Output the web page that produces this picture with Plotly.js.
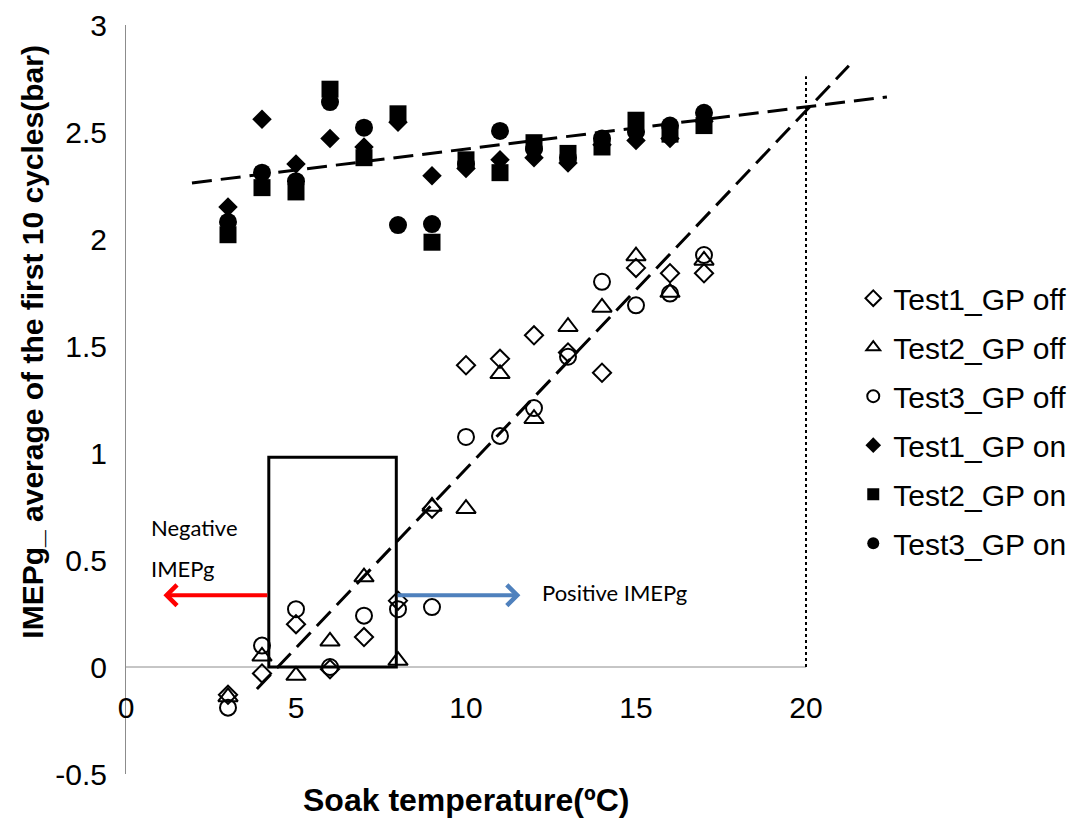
<!DOCTYPE html>
<html>
<head>
<meta charset="utf-8">
<script src="https://cdn.plot.ly/plotly-3.0.1.min.js"></script>
<style>html,body{margin:0;padding:0;background:#fff;}</style>
</head>
<body>
<div id="chart" style="width:1085px;height:818px;"></div>
<script>
// Soak temperature (ºC) of each test point
const soakTemp = [3, 4, 5, 6, 7, 8, 9, 10, 11, 12, 13, 14, 15, 16, 17];

// IMEPg, average of the first 10 cycles (bar) – glow plug off
const test1Off = [-0.13, -0.03, 0.20, -0.01, 0.14, 0.31, 0.74, 1.41, 1.44, 1.55, 1.47, 1.375, 1.865, 1.84, 1.84];
const test2Off = [-0.14, 0.05, -0.04, 0.12, 0.42, 0.03, 0.75, 0.74, 1.37, 1.16, 1.59, 1.68, 1.92, 1.75, 1.90];
const test3Off = [-0.19, 0.10, 0.27, 0.00, 0.24, 0.27, 0.28, 1.075, 1.08, 1.21, 1.45, 1.80, 1.69, 1.745, 1.925];

// IMEPg, average of the first 10 cycles (bar) – glow plug on
const test1On = [2.15, 2.56, 2.35, 2.47, 2.43, 2.545, 2.295, 2.33, 2.37, 2.38, 2.355, 2.44, 2.46, 2.47, 2.55];
const test2On = [2.02, 2.24, 2.22, 2.70, 2.38, 2.585, 1.985, 2.37, 2.31, 2.45, 2.40, 2.43, 2.555, 2.49, 2.53];
const test3On = [2.08, 2.31, 2.27, 2.64, 2.52, 2.065, 2.07, 2.35, 2.505, 2.42, 2.38, 2.47, 2.50, 2.53, 2.59];

// Linear trend lines (end points)
const trendOnX = [1.94, 22.38];
const trendOnY = [2.262, 2.664];
const trendOffX = [3.85, 21.26];
const trendOffY = [-0.103, 2.81];

// Axis ticks
const xTicks = [0, 5, 10, 15, 20];
const yTicks = [-0.5, 0, 0.5, 1, 1.5, 2, 2.5, 3];
const yTickText = ['-0.5', '0', '0.5', '1', '1.5', '2', '2.5', '3'];

// Highlighted transition window and the crossing temperature
const windowX = [4.2, 7.95];
const windowY = [0, 0.98];
const crossTemp = 20;
const crossTop = 2.76;

const baseFont = 'Liberation Sans, Arial, sans-serif';
const noteFont = 'Lato, Open Sans, sans-serif';

function series(name, y, symbol, size, group) {
  const open = symbol.endsWith('-open');
  return {
    type: 'scatter', mode: 'markers', name: name, x: soakTemp, y: y,
    legendgroup: group,
    marker: {
      symbol: symbol, size: size, color: '#000',
      line: {color: '#000', width: open ? 2 : 0}
    },
    cliponaxis: false
  };
}

function trend(x, y) {
  return {
    type: 'scatter', mode: 'lines', x: x, y: y, showlegend: false, hoverinfo: 'skip',
    line: {color: '#000', width: 3, dash: '20px,9px'}
  };
}

const data = [
  trend(trendOnX, trendOnY),
  trend(trendOffX, trendOffY),
  series('Test1_GP off', test1Off, 'diamond-open', 14, 'a'),
  series('Test2_GP off', test2Off, 'triangle-up-open', 17, 'b'),
  series('Test3_GP off', test3Off, 'circle-open', 16, 'c'),
  series('Test1_GP on', test1On, 'diamond', 15, 'd'),
  series('Test2_GP on', test2On, 'square', 17, 'e'),
  series('Test3_GP on', test3On, 'circle', 18, 'f')
];

const layout = {
  width: 1085, height: 818,
  paper_bgcolor: '#fff', plot_bgcolor: 'rgba(0,0,0,0)',
  margin: {l: 126, r: 177, t: 25, b: 44},
  showlegend: true,
  legend: {
    x: 0.93, xanchor: 'left', y: 0.67, yanchor: 'top',
    bgcolor: 'rgba(0,0,0,0)', itemsizing: 'constant', tracegroupgap: 7,
    font: {family: baseFont, size: 30, color: '#000'}
  },
  xaxis: {
    range: [0, 23], anchor: 'free', position: 0.5 / 3.5,
    showline: false, showgrid: false, zeroline: false,
    tickvals: xTicks, ticks: '', ticklabelstandoff: 20,
    tickfont: {family: baseFont, size: 30, color: '#000'}
  },
  yaxis: {
    range: [-0.5, 3], showline: true, linecolor: '#8c8c8c', linewidth: 1,
    showgrid: false, zeroline: false,
    tickvals: yTicks, ticktext: yTickText, ticks: '', ticklabelstandoff: 12,
    tickfont: {family: baseFont, size: 30, color: '#000'}
  },
  shapes: [
    {type: 'line', xref: 'x', yref: 'y', x0: 0, x1: crossTemp, y0: 0, y1: 0,
     line: {color: '#8c8c8c', width: 1}, layer: 'below'},
    {type: 'line', xref: 'x', yref: 'y', x0: crossTemp, x1: crossTemp, y0: 0, y1: crossTop,
     line: {color: '#000', width: 2, dash: 'dot'}},
    {type: 'rect', xref: 'x', yref: 'y', x0: windowX[0], x1: windowX[1], y0: windowY[0], y1: windowY[1],
     line: {color: '#000', width: 3}, fillcolor: 'rgba(0,0,0,0)'}
  ],
  annotations: [
    // axis titles
    {xref: 'x', yref: 'paper', x: 10, y: -0.035, xanchor: 'center', yanchor: 'middle', showarrow: false,
     text: 'Soak temperature(ºC)', font: {family: baseFont, size: 32, color: '#000', weight: 'bold'}},
    {xref: 'paper', yref: 'y', x: -0.119, y: 1.52, xanchor: 'center', yanchor: 'middle', showarrow: false,
     textangle: -90, text: 'IMEPg_ average of the first 10 cycles(bar)',
     font: {family: baseFont, size: 30, color: '#000', weight: 'bold'}},
    // direction arrows and notes
    {xref: 'x', yref: 'y', x: 1.1, y: 0.335, ax: windowX[0], ay: 0.335, axref: 'x', ayref: 'y',
     text: '', showarrow: true, arrowhead: 4, arrowsize: 1, arrowwidth: 4, arrowcolor: '#ff0000'},
    {xref: 'x', yref: 'y', x: 11.6, y: 0.335, ax: windowX[1], ay: 0.335, axref: 'x', ayref: 'y',
     text: '', showarrow: true, arrowhead: 4, arrowsize: 1, arrowwidth: 4, arrowcolor: '#4f81bd'},
    {xref: 'x', yref: 'y', x: 0.68, y: 0.65, xanchor: 'left', yanchor: 'middle', showarrow: false,
     text: 'Negative', font: {family: noteFont, size: 22, color: '#000'}},
    {xref: 'x', yref: 'y', x: 0.68, y: 0.46, xanchor: 'left', yanchor: 'middle', showarrow: false,
     text: 'IMEPg', font: {family: noteFont, size: 22, color: '#000'}},
    {xref: 'x', yref: 'y', x: 12.18, y: 0.35, xanchor: 'left', yanchor: 'middle', showarrow: false,
     text: 'Positive IMEPg', font: {family: noteFont, size: 22, color: '#000'}}
  ]
};

Plotly.newPlot('chart', data, layout, {displayModeBar: false, staticPlot: true});
</script>
</body>
</html>
